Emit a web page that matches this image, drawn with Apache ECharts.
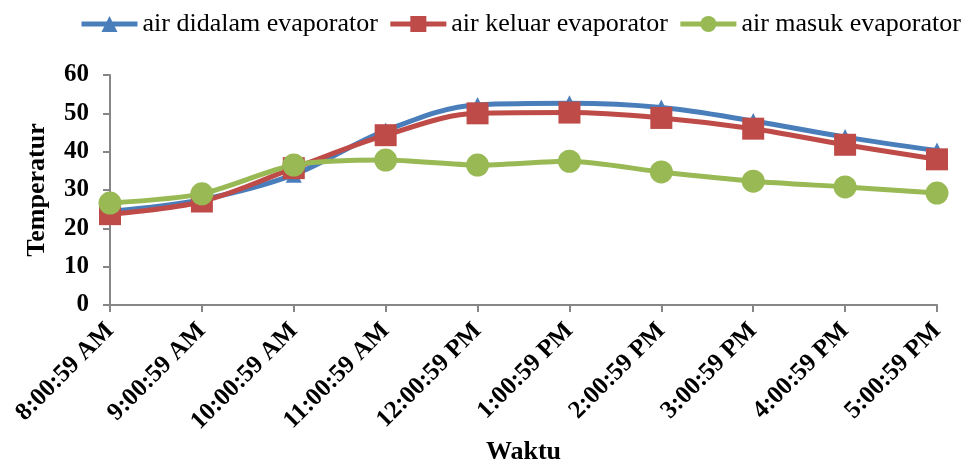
<!DOCTYPE html>
<html><head><meta charset="utf-8">
<script src="https://cdn.jsdelivr.net/npm/echarts@6/dist/echarts.min.js"></script>
<style>html,body{margin:0;padding:0;background:#fff}#c{width:967px;height:467px}</style>
</head><body><div id="c"></div>
<script>
var categories = ['8:00:59 AM','9:00:59 AM','10:00:59 AM','11:00:59 AM','12:00:59 PM','1:00:59 PM','2:00:59 PM','3:00:59 PM','4:00:59 PM','5:00:59 PM'];
var didalam = [24.5, 27.5, 34, 45.5, 52.2, 52.6, 51.5, 48, 43.8, 40.3];
var keluar = [23.7, 27, 35.7, 44.3, 50, 50.2, 48.8, 46, 41.8, 38];
var masuk = [26.6, 29, 36.5, 37.8, 36.5, 37.5, 34.7, 32.3, 30.8, 29.2];
var yTicks = {min: 0, max: 60, interval: 10};

var font = '"Liberation Serif", "Times New Roman", serif';
var chart = echarts.init(document.getElementById('c'));
chart.setOption({
  backgroundColor: '#fff',
  animation: false,
  legend: {
    top: 6, left: 74,
    itemWidth: 56, itemHeight: 20, itemGap: 10,
    lineStyle: {width: 5},
    textStyle: {fontFamily: font, fontSize: 26, color: '#000'},
    data: ['air didalam evaporator','air keluar evaporator','air masuk evaporator']
  },
  grid: {left: 110, right: 30, top: 75, bottom: 162, containLabel: false, outerBoundsMode: 'none'},
  xAxis: {
    type: 'category', data: categories, boundaryGap: false,
    name: 'Waktu', nameLocation: 'middle', nameGap: 134,
    nameTextStyle: {fontFamily: font, fontSize: 26, fontWeight: 'bold', color: '#000'},
    axisLine: {lineStyle: {color: '#868686', width: 2}},
    axisTick: {show: true, alignWithLabel: true, length: 7, lineStyle: {color: '#868686', width: 2}},
    axisLabel: {rotate: 45, fontFamily: font, fontSize: 25, fontWeight: 'bold', color: '#000', margin: 22, interval: 0}
  },
  yAxis: {
    type: 'value', min: yTicks.min, max: yTicks.max, interval: yTicks.interval,
    name: 'Temperatur', nameLocation: 'middle', nameGap: 60, nameRotate: 90,
    nameTextStyle: {fontFamily: font, fontSize: 26, fontWeight: 'bold', color: '#000'},
    splitLine: {show: false},
    axisLine: {show: true, lineStyle: {color: '#868686', width: 2}},
    axisTick: {show: true, length: 7, lineStyle: {color: '#868686', width: 2}},
    axisLabel: {fontFamily: font, fontSize: 25, fontWeight: 'bold', color: '#000', margin: 21}
  },
  series: [
    {name: 'air didalam evaporator', type: 'line', data: didalam, smooth: 0.35,
     symbol: 'triangle', symbolSize: 16, color: '#4A7EBB',
     lineStyle: {width: 5, color: '#4A7EBB'}, itemStyle: {color: '#4A7EBB'}},
    {name: 'air keluar evaporator', type: 'line', data: keluar, smooth: 0.35,
     symbol: 'rect', symbolSize: 22, color: '#BE4B48',
     lineStyle: {width: 5, color: '#BE4B48'}, itemStyle: {color: '#BE4B48'}},
    {name: 'air masuk evaporator', type: 'line', data: masuk, smooth: 0.25,
     symbol: 'circle', symbolSize: 23, color: '#98B954',
     lineStyle: {width: 5, color: '#98B954'}, itemStyle: {color: '#98B954'}}
  ]
});
</script></body></html>
